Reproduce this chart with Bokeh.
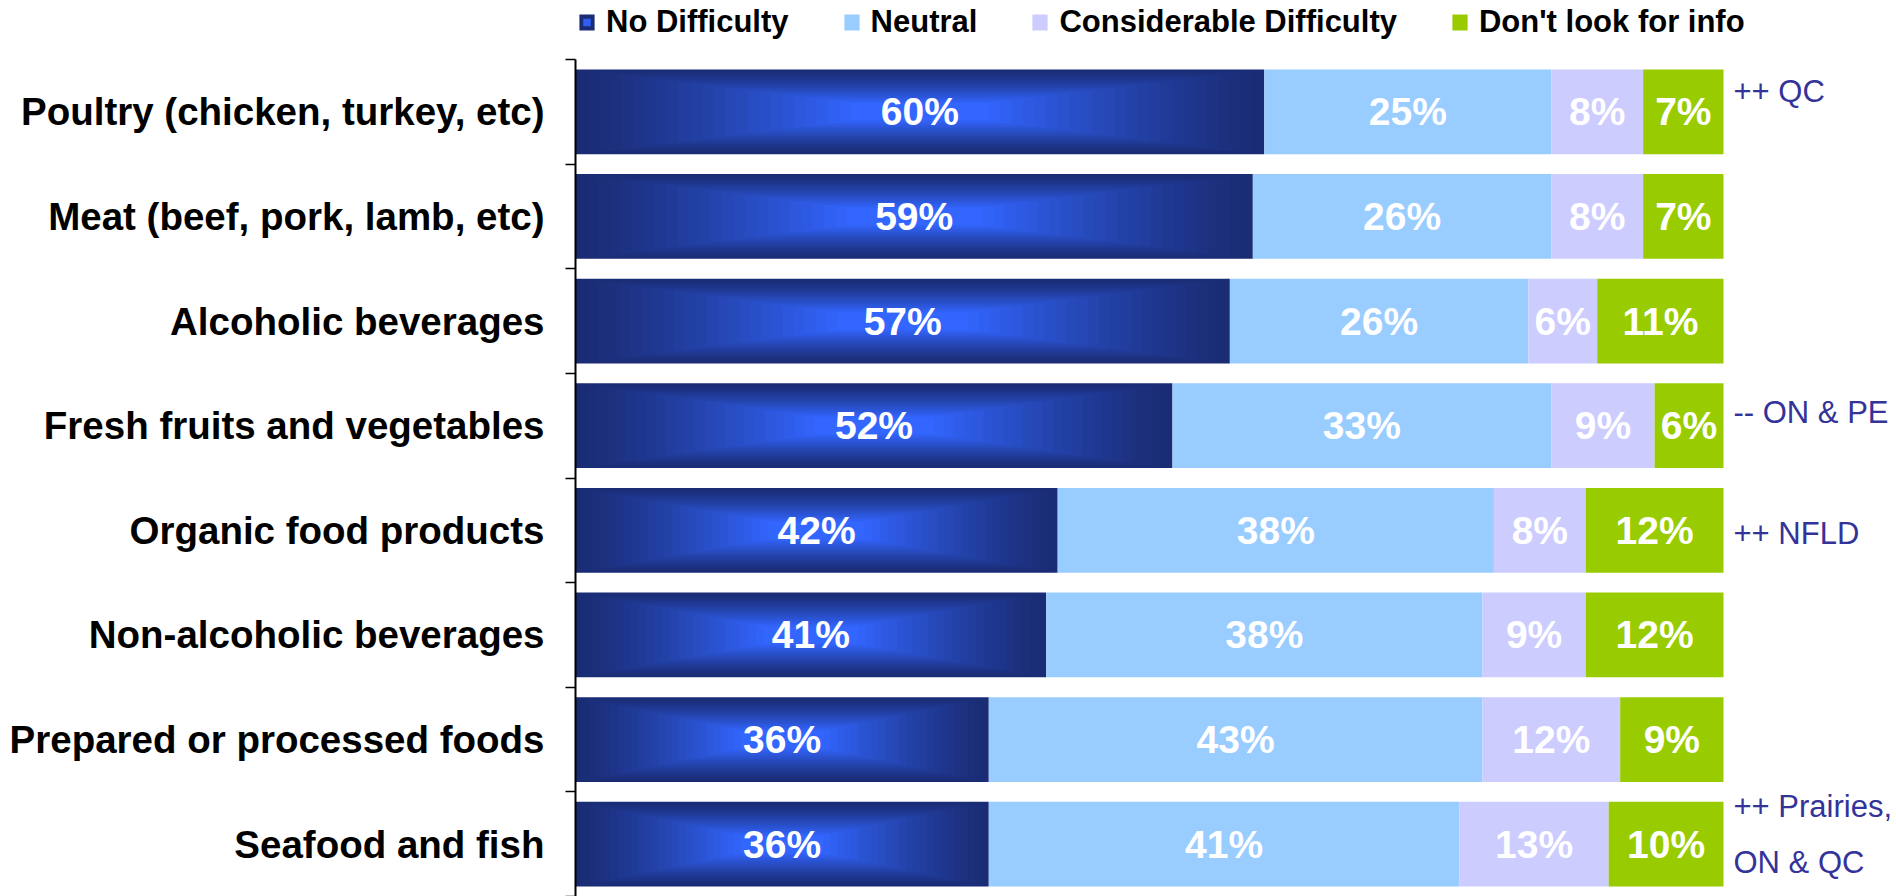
from bokeh.plotting import figure
from bokeh.models import (ColumnDataSource, Range1d, FixedTicker, Legend, LegendItem)
from bokeh.core.properties import value
from bokeh.embed import file_html
from bokeh.resources import INLINE

# Survey results: ease of finding information, by food category (percent of respondents)
categories = [
    "Poultry (chicken, turkey, etc)",
    "Meat (beef, pork, lamb, etc)",
    "Alcoholic beverages",
    "Fresh fruits and vegetables",
    "Organic food products",
    "Non-alcoholic beverages",
    "Prepared or processed foods",
    "Seafood and fish",
]
series_names = ["No Difficulty", "Neutral", "Considerable Difficulty", "Don't look for info"]
no_difficulty = [60, 59, 57, 52, 42, 41, 36, 36]
neutral = [25, 26, 26, 33, 38, 38, 43, 41]
considerable = [8, 8, 6, 9, 8, 9, 12, 13]
dont_look = [7, 7, 11, 6, 12, 12, 9, 10]
notes = ["++ QC", "", "", "-- ON & PE", "++ NFLD", "", "", "++ Prairies,\nON & QC"]

# layout / styling
note_nudge_px = [-20, 0, 0, -13, 3, 0, 0, -10]
FONT = value("Liberation Sans")
EDGE = (0x1a, 0x2c, 0x74)
CENTER = (0x33, 0x66, 0xff)
SEG_COLORS = ["#1a2c74", "#99ccff", "#ccccff", "#99cc00"]
BAR_H = 0.81

n = len(categories)
ypos = [n - 1 - i for i in range(n)]

p = figure(width=1896, height=896, output_backend="svg", toolbar_location=None,
           tools="", x_axis_type=None,
           x_range=Range1d(0, 115.07), y_range=Range1d(-0.5, 8.064),
           min_border_left=575, min_border_right=0, min_border_top=0, min_border_bottom=0)
p.outline_line_color = None
p.xgrid.visible = False
p.ygrid.visible = False
p.background_fill_color = "white"
p.border_fill_color = "white"


def mix(a, b, f):
    return "#%02x%02x%02x" % tuple(round(a[k] + (b[k] - a[k]) * f) for k in range(3))


series = [no_difficulty, neutral, considerable, dont_look]
lefts = [[0] * n]
for ser in series[:-1]:
    lefts.append([a + b for a, b in zip(lefts[-1], ser)])
rights = [[a + b for a, b in zip(lefts[k], series[k])] for k in range(4)]

# "No Difficulty" bars: navy base, then nested rectangles shading to a bright blue core
base = p.hbar(y=ypos, left=lefts[0], right=rights[0], height=BAR_H,
              fill_color=SEG_COLORS[0], line_color=None)
steps, total, reach = 25, 30, 0.8
gx, gy, gw, gh, gc = [], [], [], [], []
for y, v in zip(ypos, no_difficulty):
    for t in range(1, steps):
        s = t / total
        f = min(1.0, s / reach) ** 1.25
        gx.append(v / 2)
        gy.append(y)
        gw.append((1 - s) * v)
        gh.append((1 - s) * BAR_H)
        gc.append(mix(EDGE, CENTER, f))
p.rect(x="x", y="y", width="w", height="h", fill_color="c", line_color=None,
       source=ColumnDataSource(dict(x=gx, y=gy, w=gw, h=gh, c=gc)))
# bright core for the legend swatch (kept off-screen in the plot area)
core = p.scatter(x=[-50], y=[0], marker="square", size=10,
                 fill_color="#2f5ef0", line_color=None)

legend_items = [LegendItem(label=series_names[0], renderers=[base, core])]
for k in range(1, 4):
    r = p.hbar(y=ypos, left=lefts[k], right=rights[k],
               height=BAR_H, fill_color=SEG_COLORS[k], line_color=None)
    legend_items.append(LegendItem(label=series_names[k], renderers=[r]))

# value labels centred in each segment
lx, ly, lt = [], [], []
for k in range(4):
    for i in range(n):
        lx.append(lefts[k][i] + series[k][i] / 2)
        ly.append(ypos[i])
        lt.append(f"{series[k][i]}%")
p.text(x="x", y="y", text="t", source=ColumnDataSource(dict(x=lx, y=ly, t=lt)),
       text_font=FONT, text_font_size=value("39px"), text_font_style="bold",
       text_color="white", text_align="center", text_baseline="middle")

# regional notes to the right of the bars
nx, ny, nt, nd = [], [], [], []
for i, note in enumerate(notes):
    if note:
        nx.append(100)
        ny.append(ypos[i])
        nt.append(note)
        nd.append(note_nudge_px[i])
p.text(x="x", y="y", text="t", y_offset="dy",
       source=ColumnDataSource(dict(x=nx, y=ny, t=nt, dy=nd)),
       x_offset=10, text_font=FONT, text_font_size=value("31px"),
       text_color="#333399", text_align="left", text_baseline="middle",
       text_line_height=1.6)

# category axis: labels at bar centres, tick marks between bars
ax = p.yaxis[0]
ax.ticker = FixedTicker(ticks=ypos, minor_ticks=[y - 0.5 for y in range(n + 1)])
ax.major_label_overrides = {y: c for y, c in zip(ypos, categories)}
ax.bounds = (-0.5, n - 0.5)
ax.major_tick_out = 0
ax.major_tick_in = 0
ax.minor_tick_out = 10
ax.minor_tick_in = 0
ax.minor_tick_line_color = "black"
ax.minor_tick_line_width = 1.5
ax.axis_line_color = "black"
ax.axis_line_width = 2
ax.major_label_standoff = 21
ax.major_label_text_font = "Liberation Sans"
ax.major_label_text_font_size = "38.5px"
ax.major_label_text_font_style = "bold"
ax.major_label_text_color = "black"

legend = Legend(
    items=legend_items,
    orientation="horizontal", location=(2, 856), padding=0, margin=0, spacing=53,
    glyph_width=19, glyph_height=20, label_standoff=10,
    border_line_color=None, background_fill_alpha=0,
    label_text_font="Liberation Sans", label_text_font_size="31px",
    label_text_font_style="bold", label_text_color="black")
p.add_layout(legend)

open("out.html", "w").write(file_html(p, INLINE))
